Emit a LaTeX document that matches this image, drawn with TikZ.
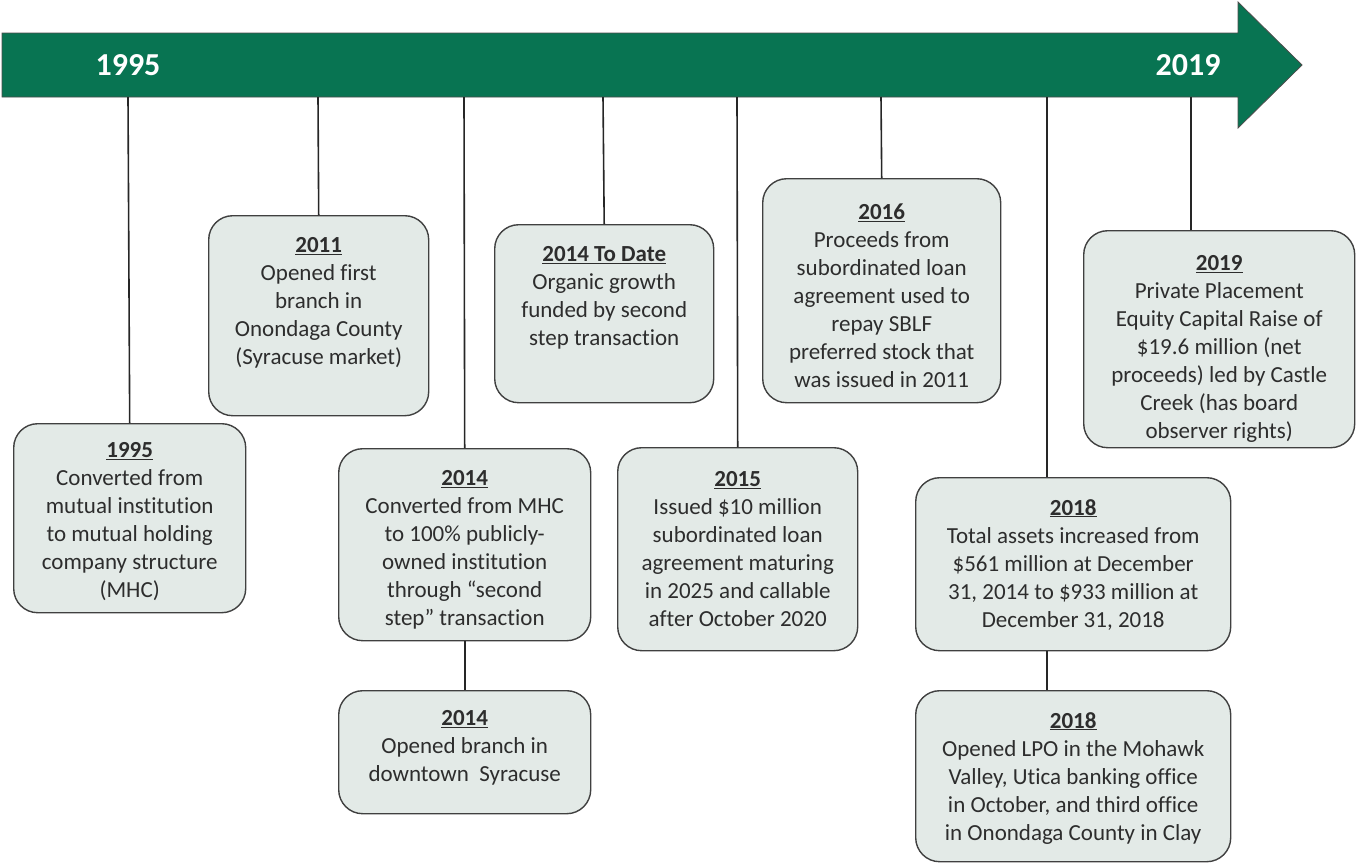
\documentclass[tikz,border=0pt]{standalone}
\usepackage{fontspec}
\setmainfont[Ligatures=NoCommon]{Carlito}
\usetikzlibrary{positioning}
\definecolor{bandgreen}{RGB}{8,116,82}
\definecolor{boxfill}{RGB}{227,234,231}
\definecolor{boxline}{RGB}{64,64,64}
\definecolor{boxtext}{RGB}{45,45,45}
\tikzstyle{event} = [rectangle, 
			draw = boxline, 
			line width = 1.4pt, 
			fill = boxfill, 
			rounded corners = 24pt, 
			anchor = north west, 
			inner sep = 0pt]
\tikzstyle{evtext} = [text = boxtext, 
			align = center, 
			inner sep = 0pt, 
			font = \fontsize{23}{28}\selectfont]
\tikzstyle{year} = [text = white, 
			font = \bfseries\fontsize{32}{36}\selectfont]
\tikzstyle{stem} = [draw = black!85, line width = 1.6pt]
\newcommand{\evhead}[1]{\underline{\textbf{#1}}}

\begin{document}
\begin{tikzpicture}[x = 1pt, y = 1pt, node distance = 22pt]
	\useasboundingbox (0,0) rectangle (1356,-863);
	% timeline arrow
	\draw [fill = bandgreen, draw = black!70, line width = 0.8pt] (2,-33) -- (1238,-33) -- (1238,-2) -- (1302,-65) -- (1238,-128) -- (1238,-97) -- (2,-97) -- cycle;
	\node [year] (start) at (128,-65) {1995};
	\node [year] (end) at (1188,-65) {2019};
	\coordinate (s1) at (128,-97);
	\coordinate (s2) at (318,-97);
	\coordinate (s3) at (464,-97);
	\coordinate (s4) at (603,-97);
	\coordinate (s5) at (737,-97);
	\coordinate (s6) at (881,-97);
	\coordinate (s7) at (1047,-97);
	\coordinate (s8) at (1191,-97);
	% boxes
	\node [event, minimum width = 232, minimum height = 189] (b1995) at (13,-423) {};
	\node [event, minimum width = 220, minimum height = 200] (b2011) at (208,-215) {};
	\node [event, minimum width = 252, minimum height = 192] (b2014a) at (338,-448) {};
	\node [event, minimum width = 252, minimum height = 123] (b2014b) at (338,-690) {};
	\node [event, minimum width = 219, minimum height = 178] (bdate) at (494,-224) {};
	\node [event, minimum width = 240, minimum height = 203] (b2015) at (617,-447) {};
	\node [event, minimum width = 238, minimum height = 224] (b2016) at (762,-178) {};
	\node [event, minimum width = 315, minimum height = 173] (b2018a) at (915,-477) {};
	\node [event, minimum width = 315, minimum height = 171] (b2018b) at (915,-690) {};
	\node [event, minimum width = 271, minimum height = 217] (b2019) at (1083,-230) {};
	% texts
	\node [evtext, below = 19pt of b1995.north] (t1995) {\evhead{1995}\\Converted from\\mutual institution\\to mutual holding\\company structure\\(MHC)};
	\node [evtext, below = of b2011.north] (t2011) {\evhead{2011}\\Opened first\\branch in\\Onondaga County\\(Syracuse market)};
	\node [evtext, below = of b2014a.north] (t2014a) {\evhead{2014}\\Converted from MHC\\to 100\% publicly-\\owned institution\\through ``second\\step'' transaction};
	\node [evtext, below = 20pt of b2014b.north] (t2014b) {\evhead{2014}\\Opened branch in\\downtown\ \ Syracuse};
	\node [evtext, below = of bdate.north] (tdate) {\evhead{2014 To Date}\\Organic growth\\funded by second\\step transaction};
	\node [evtext, below = 24pt of b2015.north] (t2015) {\evhead{2015}\\Issued \$10 million\\subordinated loan\\agreement maturing\\in 2025 and callable\\after October 2020};
	\node [evtext, below = 26pt of b2016.north] (t2016) {\evhead{2016}\\Proceeds from\\subordinated loan\\agreement used to\\repay SBLF\\preferred stock that\\was issued in 2011};
	\node [evtext, below = of b2018a.north] (t2018a) {\evhead{2018}\\Total assets increased from\\\$561 million at December\\31, 2014 to \$933 million at\\December 31, 2018};
	\node [evtext, below = of b2018b.north] (t2018b) {\evhead{2018}\\Opened LPO in the Mohawk\\Valley, Utica banking office\\in October, and third office\\in Onondaga County in Clay};
	\node [evtext, below = 25pt of b2019.north] (t2019) {\evhead{2019}\\Private Placement\\Equity Capital Raise of\\\$19.6 million (net\\proceeds) led by Castle\\Creek (has board\\observer rights)};
	% stems
	\draw [stem] (s1) -- (b1995.north);
	\draw [stem] (s2) -- (b2011.north);
	\draw [stem] (s3) -- (b2014a.north);
	\draw [stem] (b2014a.south) -- (b2014b.north);
	\draw [stem] (s4) -- (bdate.north);
	\draw [stem] (s5) -- (b2015.north);
	\draw [stem] (s6) -- (b2016.north);
	\draw [stem] (s7) -- (s7 |- b2018a.north);
	\draw [stem] (b2018a.south -| s7) -- (b2018b.north -| s7);
	\draw [stem] (s8) -- (s8 |- b2019.north);
\end{tikzpicture}
\end{document}
